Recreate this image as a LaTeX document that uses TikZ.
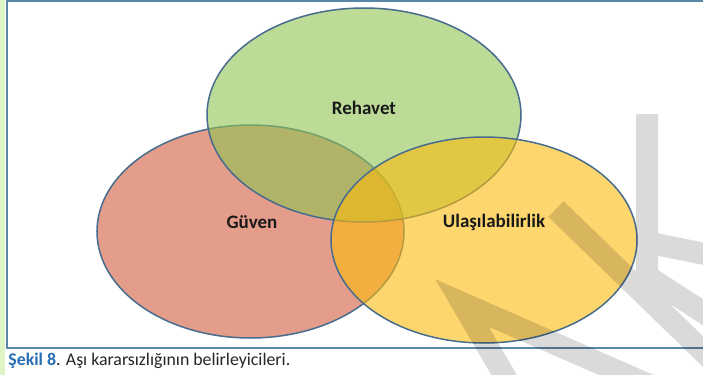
\documentclass[tikz,border=0pt]{standalone}
\usepackage{fontspec}
\setmainfont{Carlito}
\usepackage{xcolor}
\usetikzlibrary{shapes.geometric}

\definecolor{vennGreen}{RGB}{143,195,82}
\definecolor{vennRed}{RGB}{210,92,60}
\definecolor{vennYellow}{RGB}{252,187,13}
\definecolor{vennEdge}{RGB}{72,108,142}
\definecolor{frameEdge}{RGB}{90,134,168}
\definecolor{stripGreen}{RGB}{222,245,200}
\definecolor{capBlue}{RGB}{40,110,180}
\definecolor{markGray}{RGB}{218,218,218}

\begin{document}
\begin{tikzpicture}[x=0.5pt, y=-0.5pt,
  set/.style={ellipse, draw=vennEdge, line width=0.75pt, fill opacity=0.6, draw opacity=1, inner sep=0pt},
  setname/.style={font=\fontsize{9.5}{11}\selectfont\bfseries, text=black!90},
  wmark/.style={markGray, line width=11pt, line join=miter}]
  \useasboundingbox (0,0) rectangle (703,375);
  \fill[white] (0,0) rectangle (703,375);
  \fill[stripGreen] (0,0) rectangle (5,375);
  \draw[frameEdge, line width=0.8pt] (712,1) -- (7,1) -- (7,348) -- (712,348);

  % the three sets
  \node[set, fill=vennRed, minimum width=153.5pt, minimum height=106.5pt] (guven) at (250.5,231.5) {};
  \node[set, fill=vennGreen, minimum width=157pt, minimum height=107pt] (rehavet) at (364,115) {};
  \node[set, fill=vennYellow, minimum width=153pt, minimum height=103pt] (ulasim) at (484,240) {};

  \node[setname] (rehavetLbl) at (364,108) {Rehavet};
  \node[setname] (guvenLbl) at (252,222) {Güven};
  \node[setname] (ulasimLbl) at (494,222) {Ulaşılabilirlik};

  % watermark, one path so crossings stay even
  \draw[wmark, blend mode=multiply]
    (556,209) -- (720,368)
    (647,114) -- (647,276) -- (715,320)
    (650,243) -- (715,256)
    (510,385) -- (462,303) -- (665,392);

  \node[anchor=base west, inner sep=0pt, font=\fontsize{8.9}{10}\selectfont, text=black!85] (caption) at (8,365)
    {\textcolor{capBlue}{\bfseries Şekil 8}. Aşı kararsızlığının belirleyicileri.};
\end{tikzpicture}
\end{document}
